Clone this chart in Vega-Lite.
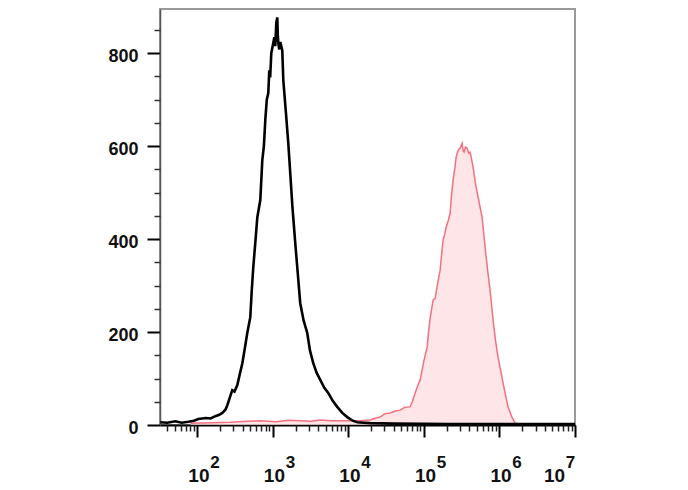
{
  "$schema": "https://vega.github.io/schema/vega-lite/v6.json",
  "autosize": {"type": "none"},
  "width": 415,
  "height": 416,
  "padding": {"left": 160, "top": 9, "right": 113, "bottom": 65},
  "background": "white",
  "config": {
    "view": {"stroke": "#9a9a9a", "strokeWidth": 2},
    "axis": {"grid": false, "labelFont": "Liberation Sans", "labelColor": "#111", "title": null}
  },
  "datasets": {
    "neg": [
      {"fl": 32.4, "count": 6}, {"fl": 40, "count": 5}, {"fl": 51, "count": 8}, {"fl": 62, "count": 5},
      {"fl": 76, "count": 7}, {"fl": 90, "count": 9}, {"fl": 103, "count": 13}, {"fl": 130, "count": 15},
      {"fl": 150, "count": 14}, {"fl": 173, "count": 19}, {"fl": 195, "count": 22}, {"fl": 214, "count": 26},
      {"fl": 235, "count": 33}, {"fl": 250, "count": 43}, {"fl": 270, "count": 60}, {"fl": 290, "count": 75},
      {"fl": 310, "count": 72}, {"fl": 338, "count": 86}, {"fl": 365, "count": 110}, {"fl": 394, "count": 133},
      {"fl": 425, "count": 165}, {"fl": 458, "count": 198}, {"fl": 502, "count": 232}, {"fl": 525, "count": 290},
      {"fl": 550, "count": 340}, {"fl": 590, "count": 400}, {"fl": 622, "count": 447}, {"fl": 681, "count": 484},
      {"fl": 724, "count": 570}, {"fl": 760, "count": 600}, {"fl": 793, "count": 656}, {"fl": 830, "count": 700},
      {"fl": 869, "count": 714}, {"fl": 896, "count": 763}, {"fl": 920, "count": 748}, {"fl": 952, "count": 800},
      {"fl": 1012, "count": 822}, {"fl": 1044, "count": 834}, {"fl": 1075, "count": 815}, {"fl": 1109, "count": 865},
      {"fl": 1143, "count": 877}, {"fl": 1160, "count": 840}, {"fl": 1178, "count": 822}, {"fl": 1215, "count": 808},
      {"fl": 1253, "count": 824}, {"fl": 1331, "count": 806}, {"fl": 1373, "count": 742}, {"fl": 1440, "count": 700},
      {"fl": 1504, "count": 662}, {"fl": 1599, "count": 606}, {"fl": 1700, "count": 540}, {"fl": 1806, "count": 473},
      {"fl": 1978, "count": 391}, {"fl": 2150, "count": 320}, {"fl": 2301, "count": 262}, {"fl": 2550, "count": 225},
      {"fl": 2849, "count": 198}, {"fl": 3100, "count": 160}, {"fl": 3422, "count": 133}, {"fl": 3800, "count": 112},
      {"fl": 4236, "count": 97}, {"fl": 4800, "count": 80}, {"fl": 5404, "count": 69}, {"fl": 6200, "count": 52},
      {"fl": 7112, "count": 39}, {"fl": 8300, "count": 26}, {"fl": 9645, "count": 17}, {"fl": 11200, "count": 10},
      {"fl": 13070, "count": 6}, {"fl": 16000, "count": 5}, {"fl": 19400, "count": 4}, {"fl": 40000, "count": 3},
      {"fl": 222000, "count": 2}, {"fl": 1000000, "count": 2}, {"fl": 10000000, "count": 2}
    ],
    "pos": [
      {"fl": 81, "count": 4}, {"fl": 150, "count": 5}, {"fl": 274, "count": 6}, {"fl": 450, "count": 8},
      {"fl": 681, "count": 9}, {"fl": 1100, "count": 7}, {"fl": 1600, "count": 10}, {"fl": 2301, "count": 9},
      {"fl": 3200, "count": 8}, {"fl": 4236, "count": 11}, {"fl": 6000, "count": 9}, {"fl": 9081, "count": 9},
      {"fl": 14330, "count": 9}, {"fl": 19400, "count": 11}, {"fl": 23000, "count": 15}, {"fl": 26350, "count": 17},
      {"fl": 30000, "count": 24}, {"fl": 35730, "count": 26}, {"fl": 42000, "count": 30}, {"fl": 48440, "count": 32},
      {"fl": 56000, "count": 38}, {"fl": 65660, "count": 39}, {"fl": 70000, "count": 50}, {"fl": 76500, "count": 69},
      {"fl": 83000, "count": 85}, {"fl": 89130, "count": 97}, {"fl": 95000, "count": 120}, {"fl": 100600, "count": 140},
      {"fl": 110300, "count": 168}, {"fl": 115000, "count": 200}, {"fl": 120800, "count": 230}, {"fl": 132400, "count": 269},
      {"fl": 140600, "count": 272}, {"fl": 150000, "count": 300}, {"fl": 163800, "count": 333}, {"fl": 172000, "count": 370},
      {"fl": 179600, "count": 398}, {"fl": 188000, "count": 410}, {"fl": 196900, "count": 426}, {"fl": 210000, "count": 440},
      {"fl": 222200, "count": 456}, {"fl": 232000, "count": 495}, {"fl": 243400, "count": 527}, {"fl": 255000, "count": 550},
      {"fl": 266800, "count": 576}, {"fl": 283400, "count": 591}, {"fl": 301300, "count": 596}, {"fl": 320100, "count": 606},
      {"fl": 330000, "count": 590}, {"fl": 340300, "count": 587}, {"fl": 355000, "count": 598}, {"fl": 372800, "count": 596},
      {"fl": 390000, "count": 585}, {"fl": 408600, "count": 587}, {"fl": 447700, "count": 555}, {"fl": 480000, "count": 520},
      {"fl": 521200, "count": 490}, {"fl": 588400, "count": 447}, {"fl": 645000, "count": 383}, {"fl": 700000, "count": 330},
      {"fl": 751000, "count": 290}, {"fl": 822700, "count": 226}, {"fl": 890000, "count": 180}, {"fl": 957700, "count": 146},
      {"fl": 1116000, "count": 90}, {"fl": 1200000, "count": 65}, {"fl": 1300000, "count": 39}, {"fl": 1450000, "count": 18},
      {"fl": 1608000, "count": 4}, {"fl": 1872000, "count": 2}, {"fl": 5000000, "count": 2}, {"fl": 10000000, "count": 2}
    ]
  },
  "resolve": {"axis": {"x": "independent", "y": "independent"}},
  "layer": [
    {
      "data": {"name": "pos"},
      "mark": {"type": "area", "color": "#fddcde", "line": {"color": "#f3707e", "strokeWidth": 1.5}, "clip": true},
      "encoding": {
        "x": {
          "field": "fl", "type": "quantitative",
          "scale": {"type": "log", "domain": [32, 10000000], "nice": false},
          "axis": {
            "orient": "bottom",
            "values": [100, 1000, 10000, 100000, 1000000, 10000000],
            "labelExpr": "'10'",
            "labelFontSize": 19, "labelFontWeight": "bold", "labelPadding": 29,
            "labelOffset": {"condition": {"test": "datum.value > 5000000", "value": -21}, "value": 1},
            "tickSize": 12, "tickWidth": 2, "tickColor": "#000",
            "domainColor": "#000", "domainWidth": 2, "labelFlush": false, "labelOverlap": false
          }
        },
        "y": {
          "field": "count", "type": "quantitative",
          "scale": {"domain": [0, 895], "nice": false, "zero": true},
          "axis": {
            "orient": "left",
            "values": [0, 200, 400, 600, 800],
            "labelFontSize": 18, "labelFontWeight": "bold", "labelPadding": 9, "labelOffset": 3,
            "tickSize": 13, "tickWidth": 2, "tickColor": "#000",
            "domainColor": "#555", "domainWidth": 1.5
          }
        }
      }
    },
    {
      "data": {"name": "neg"},
      "mark": {"type": "line", "color": "#000", "strokeWidth": 2.6, "clip": true},
      "encoding": {
        "x": {
          "field": "fl", "type": "quantitative",
          "axis": {
            "orient": "bottom",
            "values": [40, 50, 60, 70, 80, 90, 200, 300, 400, 500, 600, 700, 800, 900, 2000, 3000, 4000, 5000, 6000, 7000, 8000, 9000, 20000, 30000, 40000, 50000, 60000, 70000, 80000, 90000, 200000, 300000, 400000, 500000, 600000, 700000, 800000, 900000, 2000000, 3000000, 4000000, 5000000, 6000000, 7000000, 8000000, 9000000],
            "labels": false, "tickSize": 6, "tickWidth": 1.5, "tickColor": "#222", "domain": false
          }
        },
        "y": {
          "field": "count", "type": "quantitative",
          "axis": {
            "orient": "left",
            "values": [50, 100, 150, 250, 300, 350, 450, 500, 550, 650, 700, 750, 850],
            "labels": false, "tickSize": 6, "tickWidth": 1.5, "tickColor": "#333", "domain": false
          }
        }
      }
    },
    {
      "data": {"name": "neg"},
      "mark": {"type": "line", "strokeOpacity": 0, "clip": true},
      "encoding": {
        "x": {
          "field": "fl", "type": "quantitative",
          "axis": {
            "orient": "bottom",
            "values": [100, 1000, 10000, 100000, 1000000, 10000000],
            "labelExpr": "format(round(log(datum.value)/LN10), 'd')",
            "labelFontSize": 17, "labelFontWeight": "bold", "labelPadding": 17,
            "labelOffset": {"condition": {"test": "datum.value > 5000000", "value": -5}, "value": 17},
            "tickSize": 12, "tickOpacity": 0, "domain": false, "labelFlush": false, "labelOverlap": false
          }
        },
        "y": {"field": "count", "type": "quantitative", "axis": null}
      }
    }
  ]
}
